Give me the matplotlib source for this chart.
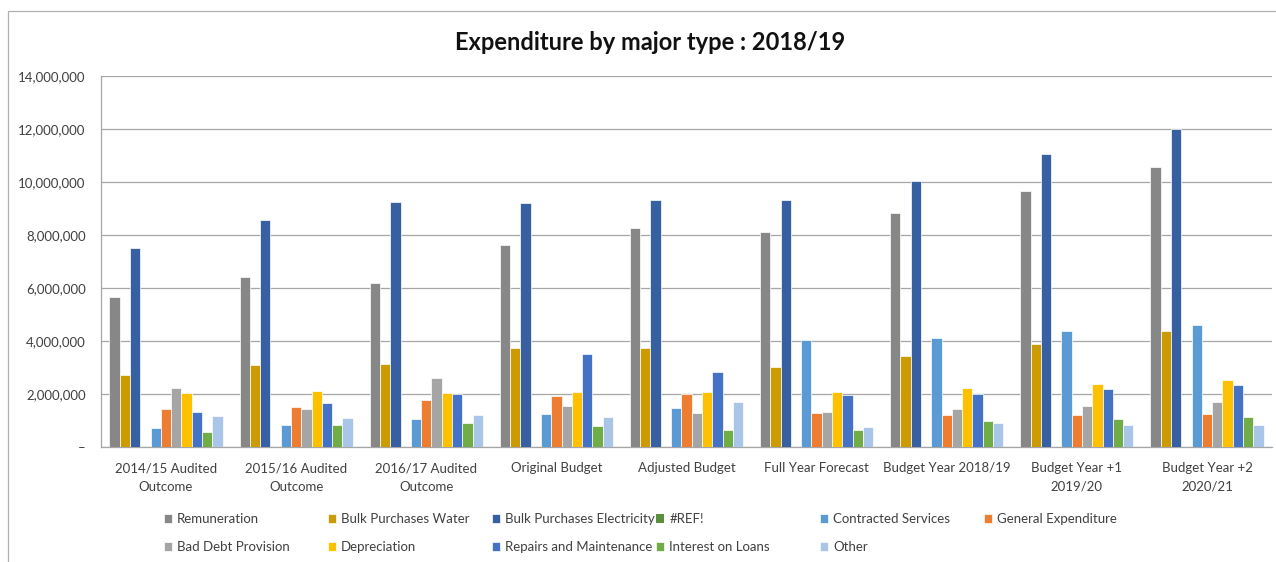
import numpy as np
import matplotlib.pyplot as plt
from matplotlib.patches import Rectangle
from matplotlib.ticker import FuncFormatter

plt.rcParams['font.family'] = ['Lato', 'DejaVu Sans']

# Categories along the x axis
categories = ['2014/15 Audited\nOutcome', '2015/16 Audited\nOutcome', '2016/17 Audited\nOutcome',
              'Original Budget', 'Adjusted Budget', 'Full Year Forecast',
              'Budget Year 2018/19', 'Budget Year +1\n2019/20', 'Budget Year +2\n2020/21']

# Expenditure per type (Rand)
remuneration = [5670000, 6430000, 6180000, 7610000, 8250000, 8110000, 8830000, 9650000, 10570000]
bulk_water = [2720000, 3110000, 3140000, 3750000, 3720000, 3030000, 3450000, 3900000, 4390000]
bulk_electricity = [7500000, 8550000, 9260000, 9210000, 9310000, 9310000, 10040000, 11040000, 12010000]
ref_error = [0, 0, 0, 0, 0, 0, 0, 0, 0]
contracted = [700000, 840000, 1070000, 1250000, 1470000, 4040000, 4110000, 4360000, 4590000]
general = [1430000, 1520000, 1770000, 1940000, 2010000, 1300000, 1210000, 1210000, 1250000]
bad_debt = [2210000, 1430000, 2600000, 1550000, 1270000, 1330000, 1430000, 1550000, 1690000]
depreciation = [2050000, 2130000, 2030000, 2090000, 2080000, 2080000, 2210000, 2390000, 2540000]
repairs = [1330000, 1660000, 2010000, 3520000, 2830000, 1960000, 2010000, 2190000, 2350000]
interest = [570000, 840000, 910000, 790000, 650000, 650000, 990000, 1070000, 1140000]
other = [1180000, 1090000, 1210000, 1130000, 1690000, 770000, 910000, 820000, 840000]

series = [
    ('Remuneration', remuneration, '#878787'),
    ('Bulk Purchases Water', bulk_water, '#CC9B00'),
    ('Bulk Purchases Electricity', bulk_electricity, '#3660A2'),
    ('#REF!', ref_error, '#5A8F3C'),
    ('Contracted Services', contracted, '#5B9BD5'),
    ('General Expenditure', general, '#ED7D31'),
    ('Bad Debt Provision', bad_debt, '#A5A5A5'),
    ('Depreciation', depreciation, '#FFC000'),
    ('Repairs and Maintenance', repairs, '#4472C4'),
    ('Interest on Loans', interest, '#70AD47'),
    ('Other', other, '#A9C5E8'),
]

W, H = 1276, 562
fig = plt.figure(figsize=(W / 100, H / 100), dpi=100)
ax = fig.add_axes([101 / W, 1 - 447 / H, (1272 - 101) / W, (447 - 76) / H])

x = np.arange(len(categories))
n = len(series)
width = 0.87 / n
handles = []
for j, (name, vals, color) in enumerate(series):
    lw = 0 if name == '#REF!' else 0.5
    bars = ax.bar(x + (j - (n - 1) / 2) * width, vals, width, color=color,
                  edgecolor='white', linewidth=lw, label=name, zorder=3)
    handles.append(bars)

ax.set_xlim(-0.5, len(categories) - 0.5)
ax.set_ylim(0, 14000000)
ax.set_yticks(np.arange(0, 14000001, 2000000))
ax.yaxis.set_major_formatter(FuncFormatter(lambda v, p: '–' if v == 0 else f'{v:,.0f}'))
ax.set_xticks(x)
ax.set_xticklabels(categories, linespacing=1.65)

ax.grid(axis='y', color='#A6A6A6', linewidth=0.9, zorder=0)
for side in ['top', 'right']:
    ax.spines[side].set_visible(False)
for side in ['left', 'bottom']:
    ax.spines[side].set_color('#A6A6A6')
    ax.spines[side].set_linewidth(0.9)
ax.tick_params(axis='both', length=0, labelsize=9.5, colors='#404040')
ax.tick_params(axis='y', pad=11)
ax.tick_params(axis='x', pad=11)

fig.text(650 / W, 1 - 42 / H, 'Expenditure by major type : 2018/19',
         ha='center', va='center', fontsize=17, fontweight='bold', color='#111111')

# legend laid out in two rows with evenly spaced columns
for j, (name, vals, color) in enumerate(series):
    row, col = (0, j) if j < 6 else (1, j - 6)
    fig.legend([handles[j]], [name], loc='center left',
               bbox_to_anchor=((164 + 164 * col) / W, 1 - (519 + 28 * row) / H),
               frameon=False, borderpad=0, borderaxespad=0, handlelength=0.6,
               handleheight=0.6, handletextpad=0.4, fontsize=9.5, labelcolor='#404040')

# outer chart border
fig.add_artist(Rectangle((8 / W, -0.1), 1.2, 1.1 - 11 / H, transform=fig.transFigure,
                         fill=False, edgecolor='#B0B0B0', linewidth=0.9))

fig.savefig('out.png', dpi=100)
